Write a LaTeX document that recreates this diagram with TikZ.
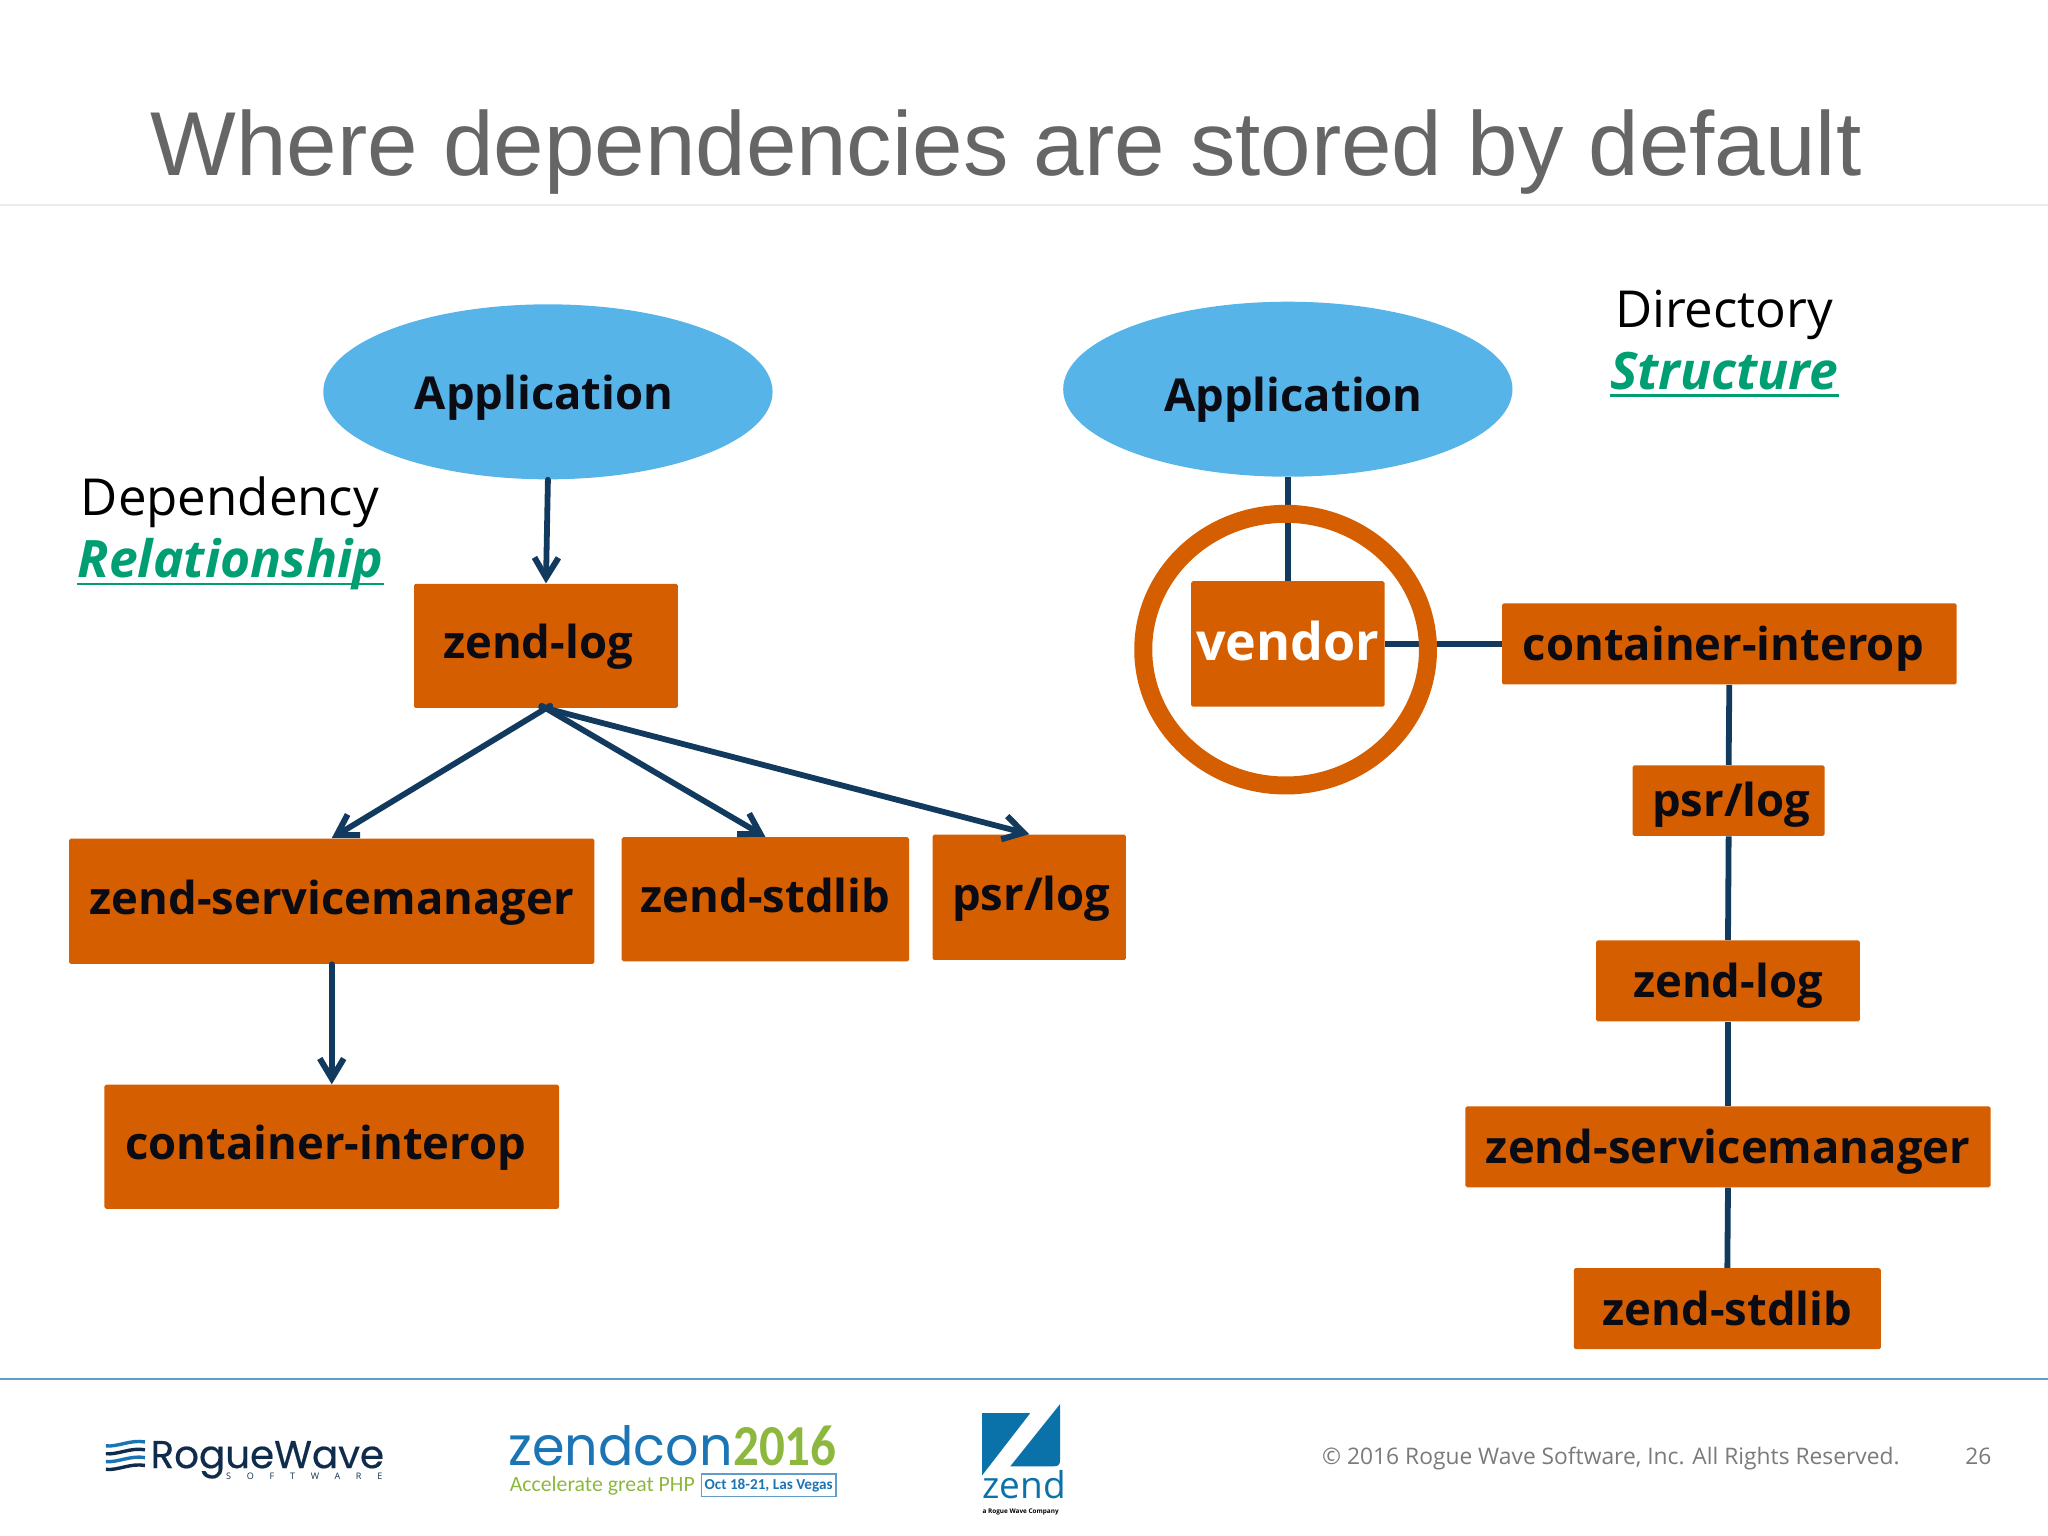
\documentclass[tikz,border=0pt]{standalone}
\usepackage{fontspec}
\usepackage{graphicx}
\usepackage{tikz}
\usetikzlibrary{arrows.meta,shapes.geometric}
\setmainfont{Open Sans}
\newfontfamily\titlefont{Liberation Sans}
\newfontfamily\logofont{Poppins}
\newfontfamily\tagfont{Carlito}
\definecolor{boxorange}{HTML}{D55E00}
\definecolor{skyblue}{HTML}{56B4E9}
\definecolor{linknavy}{HTML}{123A5E}
\definecolor{tealgreen}{HTML}{009E73}
\definecolor{inkdark}{HTML}{0B0B14}
\definecolor{zendblue}{HTML}{0A72A8}
\definecolor{conblue}{HTML}{1B75B5}
\definecolor{congreen}{HTML}{8DB83F}
\definecolor{wavenavy}{HTML}{0F2C4C}

\begin{document}
\begin{tikzpicture}[x=0.6531pt, y=-0.6531pt,
    box/.style={draw=none, fill=boxorange, rounded corners=0.8pt, inner sep=0pt,
        text=inkdark, text height=16pt, text depth=3pt,
        font=\fontsize{22.7}{26}\selectfont\bfseries},
    lowbox/.style={box, text height=19.3pt},
    boxsize/.style 2 args={minimum width=#1*0.6531pt, minimum height=#2*0.6531pt},
    app/.style={ellipse, fill=skyblue, inner sep=0pt, text=inkdark, text depth=3pt,
        minimum width=344*0.6531pt, minimum height=134*0.6531pt,
        font=\fontsize{22.7}{26}\selectfont\bfseries},
    link/.style={draw=linknavy, line width=2.9pt},
    dep/.style={link, line cap=round, -{Straight Barb[length=10pt,width=12pt,line width=3pt]}},
    heading/.style={inner sep=0pt, text=black, font=\fontsize{25.5}{30}\selectfont},
    accent/.style={inner sep=0pt, text=tealgreen, font=\fontsize{25.8}{30}\selectfont\bfseries\itshape},
    accentline/.style={draw=tealgreen, line width=1.3pt}]

    \useasboundingbox (0,0) rectangle (1568,1176);

    % title and rules
    \node[inner sep=0pt, anchor=base west, text=black!60, font=\fontsize{45.4}{52}\selectfont\titlefont] (title) at (115,134.5) {Where dependencies are stored by default};
    \coordinate (ruleA) at (0,157);
    \coordinate (ruleB) at (1568,157);
    \coordinate (ruleC) at (0,1055.5);
    \coordinate (ruleD) at (1568,1055.5);
    \draw[black!8, line width=0.7pt] (ruleA) -- (ruleB);
    \draw[conblue!70, line width=1pt] (ruleC) -- (ruleD);

    % dependency relationship
    \node[heading, anchor=base] (dephead) at (176,395) {Dependency};
    \node[accent, anchor=base] (deptail) at (176.5,442) {Relationship};
    \draw[accentline] ([yshift=-3.3pt]deptail.base west) -- ([yshift=-3.3pt]deptail.base east);

    \node[app, text height=20.6pt] (app1) at (419.5,300) {\kern-3.8pt Application};
    \node[box, boxsize={202}{95}] (log1) at (418,494.5) {\kern-8pt zend-log};
    \node[box, boxsize={402}{96}] (sm1) at (254,690) {zend-servicemanager};
    \node[box, boxsize={220}{95}] (std1) at (586,688.5) {zend-stdlib};
    \node[box, boxsize={148}{96}] (psr1) at (788,687) {\kern2pt psr/log};
    \node[box, boxsize={348}{95}] (con1) at (254,878) {\kern-6pt container-interop};

    \draw[dep] (app1.south) -- (log1.north);
    \draw[dep, shorten <=-2.5pt] (log1.south) -- (sm1.north);
    \draw[dep, shorten <=-2.5pt] (log1.south) -- (std1.north);
    \draw[dep, shorten <=-2.5pt] (log1.south) -- (psr1.north);
    \draw[dep] (sm1.south) -- (con1.north);

    % directory structure
    \node[heading, anchor=base] (dirhead) at (1320,251) {Directory};
    \node[accent, anchor=base] (dirtail) at (1320,298) {Structure};
    \draw[accentline] ([yshift=-3pt]dirtail.base west) -- ([yshift=-3pt]dirtail.base east);

    \node[app, text height=25.2pt] (app2) at (986,298) {\kern5.6pt Application};
    \node[lowbox, boxsize={148}{96}, text=white, font=\fontsize{26}{30}\selectfont\bfseries] (vend) at (986,493) {vendor};
    \node[lowbox, boxsize={348}{62}] (con2) at (1324,493) {\kern-6pt container-interop};
    \node[lowbox, boxsize={147}{54}] (psr2) at (1323.5,613) {\kern2.6pt psr/log};
    \node[lowbox, boxsize={202}{62}] (log2) at (1323,751) {zend-log};
    \node[lowbox, boxsize={402}{62}] (sm2) at (1323,878) {zend-servicemanager};
    \node[lowbox, boxsize={235}{62}] (std2) at (1322.5,1002) {zend-stdlib};

    \draw[link] (app2.south) -- (vend.north);
    \draw[link] (vend.east) -- (con2.west);
    \draw[link] (con2.south) -- (psr2.north);
    \draw[link] (psr2.south) -- (log2.north);
    \draw[link] (log2.south) -- (sm2.north);
    \draw[link] (sm2.south) -- (std2.north);

    \draw[boxorange, line width=9pt] (984.3,497.4) ellipse [x radius=109, y radius=104];

    % rogue wave logo
    \foreach \yy/\cc in {1105/conblue, 1111/wavenavy, 1117/conblue, 1123/wavenavy}
        \draw[\cc, line width=1.7pt] (81,\yy+2) .. controls (90,\yy+3) and (100,\yy-3) .. (111,\yy-1);
    \node[inner sep=0pt, anchor=base west, text=wavenavy, font=\fontsize{19.4}{22}\selectfont\logofont\addfontfeature{FakeBold=0.4}] (rwname) at (115,1124) {RogueWave};
    \node[inner sep=0pt, anchor=base east, text=wavenavy, font=\fontsize{4.5}{5}\selectfont\addfontfeature{LetterSpace=175}] (rwsub) at (293,1133) {SOFTWARE};

    % zendcon logo
    \node[inner sep=0pt, anchor=base west, text=conblue, font=\fontsize{27}{30}\selectfont\logofont] (zcname) at (389,1122) {\scalebox{0.97}[1]{zendcon}};
    \node[inner sep=0pt, anchor=base west, text=congreen, font=\fontsize{29}{32}\selectfont\tagfont\bfseries] (zcyear) at (561,1122) {\scalebox{0.88}[1]{2016}};
    \node[inner sep=0pt, anchor=base west, text=congreen, font=\fontsize{10.9}{12}\selectfont\tagfont] (zctag) at (390,1142) {Accelerate great PHP};
    \node[draw=conblue!70, line width=0.6pt, inner sep=0pt, minimum width=103*0.6531pt, minimum height=17*0.6531pt, text=conblue, font=\fontsize{7.6}{8}\selectfont\tagfont\bfseries] (zcdate) at (588.5,1137) {Oct 18-21, Las Vegas};

    % zend logo
    \fill[zendblue] (752,1082) -- (788.7,1082) -- (752,1129.5) -- cycle;
    \fill[zendblue] (811.6,1075) -- (811.6,1118) .. controls (811.6,1121.5) and (810,1122.6) .. (807,1122.6) -- (773.5,1122.6) -- cycle;
    \node[inner sep=0pt, anchor=base west, text=zendblue, font=\fontsize{18.5}{20}\selectfont] (zdname) at (752,1147) {zend};
    \node[inner sep=0pt, anchor=base west, text=black, font=\fontsize{3.2}{4}\selectfont\bfseries] (zdsub) at (752,1159) {a Rogue Wave Company};

    % footer
    \node[inner sep=0pt, anchor=base west, text=black!52, font=\fontsize{11.4}{14}\selectfont] (copy) at (1012,1121) {© 2016 Rogue Wave Software, Inc. All Rights Reserved.};
    \node[inner sep=0pt, anchor=base east, text=black!52, font=\fontsize{11.4}{14}\selectfont] (page) at (1525,1121) {26};
\end{tikzpicture}
\end{document}
